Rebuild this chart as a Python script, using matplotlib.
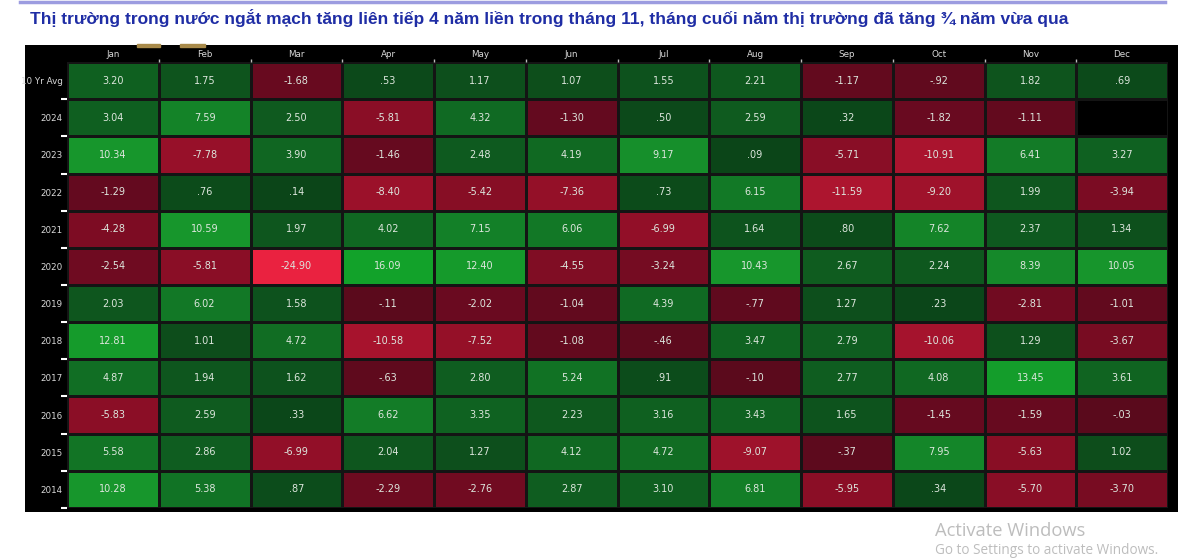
import numpy as np
import matplotlib
matplotlib.use("Agg")
import matplotlib.pyplot as plt
from matplotlib.colors import LinearSegmentedColormap, TwoSlopeNorm

months = ["Jan", "Feb", "Mar", "Apr", "May", "Jun", "Jul", "Aug", "Sep", "Oct", "Nov", "Dec"]
row_labels = ["10 Yr Avg", "2024", "2023", "2022", "2021", "2020", "2019",
              "2018", "2017", "2016", "2015", "2014"]

avg10 = [3.20, 1.75, -1.68, 0.53, 1.17, 1.07, 1.55, 2.21, -1.17, -0.92, 1.82, 0.69]
y2024 = [3.04, 7.59, 2.50, -5.81, 4.32, -1.30, 0.50, 2.59, 0.32, -1.82, -1.11, np.nan]
y2023 = [10.34, -7.78, 3.90, -1.46, 2.48, 4.19, 9.17, 0.09, -5.71, -10.91, 6.41, 3.27]
y2022 = [-1.29, 0.76, 0.14, -8.40, -5.42, -7.36, 0.73, 6.15, -11.59, -9.20, 1.99, -3.94]
y2021 = [-4.28, 10.59, 1.97, 4.02, 7.15, 6.06, -6.99, 1.64, 0.80, 7.62, 2.37, 1.34]
y2020 = [-2.54, -5.81, -24.90, 16.09, 12.40, -4.55, -3.24, 10.43, 2.67, 2.24, 8.39, 10.05]
y2019 = [2.03, 6.02, 1.58, -0.11, -2.02, -1.04, 4.39, -0.77, 1.27, 0.23, -2.81, -1.01]
y2018 = [12.81, 1.01, 4.72, -10.58, -7.52, -1.08, -0.46, 3.47, 2.79, -10.06, 1.29, -3.67]
y2017 = [4.87, 1.94, 1.62, -0.63, 2.80, 5.24, 0.91, -0.10, 2.77, 4.08, 13.45, 3.61]
y2016 = [-5.83, 2.59, 0.33, 6.62, 3.35, 2.23, 3.16, 3.43, 1.65, -1.45, -1.59, -0.03]
y2015 = [5.58, 2.86, -6.99, 2.04, 1.27, 4.12, 4.72, -9.07, -0.37, 7.95, -5.63, 1.02]
y2014 = [10.28, 5.38, 0.87, -2.29, -2.76, 2.87, 3.10, 6.81, -5.95, 0.34, -5.70, -3.70]

title = ("Thị trường trong nước ngắt mạch tăng liên tiếp 4 năm liền trong tháng 11, "
         "tháng cuối năm thị trường đã tăng ¾ năm vừa qua")

data = np.array([avg10, y2024, y2023, y2022, y2021, y2020, y2019,
                 y2018, y2017, y2016, y2015, y2014], dtype=float)

W, H = 1200, 559
fig = plt.figure(figsize=(W / 100, H / 100), dpi=100)
fig.patch.set_facecolor("white")

def fx(px):
    return px / W

def fy(py):
    return 1 - py / H

# top thin line
fig.add_artist(plt.Line2D([fx(20), fx(1165)], [fy(1.5), fy(1.5)], color="#9c9ce0", lw=2.5))

# title
fig.text(fx(30), fy(18), title, fontsize=12.55, fontweight="bold", color="#1f2da5",
         family="Liberation Sans", va="center", ha="left")

# black panel
bg = fig.add_axes([fx(25), fy(512), fx(1178) - fx(25), fy(45) - fy(512)])
bg.set_facecolor("black")
bg.set_xticks([]); bg.set_yticks([])
for s in bg.spines.values():
    s.set_visible(False)
# faint toolbar remnants
bg.add_patch(plt.Rectangle((fx(142) - fx(25), 0.996), 0.02, 0.006, transform=bg.transAxes,
                           color="#a88a4a", clip_on=False))
bg.add_patch(plt.Rectangle((fx(186) - fx(25), 0.996), 0.022, 0.006, transform=bg.transAxes,
                           color="#a88a4a", clip_on=False))

# colormap
vmin, vmax = -25.0, 16.0
def pos(v):
    return (v - vmin) / (0 - vmin) * 0.5 if v < 0 else 0.5 + 0.5 * v / vmax

nodes = [(-25, "#ea2240"), (-11, "#aa142e"), (-6, "#8c0e26"), (-1.5, "#660a1f"),
         (-0.0001, "#5a0a1c")]
pos_nodes = [(0.0001, "#0b4418"), (2, "#0e561e"), (6, "#127826"), (10, "#17952c"),
             (16, "#12a22a")]
clist = [(0.0, nodes[0][1])] + [(pos(v), c) for v, c in nodes[1:]] + \
        [(0.5, nodes[-1][1]), (0.5, pos_nodes[0][1])] + \
        [(pos(v), c) for v, c in pos_nodes[1:-1]] + [(1.0, pos_nodes[-1][1])]
cmap = LinearSegmentedColormap.from_list("bbg", clist, N=1024)
cmap.set_bad("black")
norm = TwoSlopeNorm(vmin=vmin, vcenter=0, vmax=vmax)

ax = fig.add_axes([fx(67), fy(508), fx(1168) - fx(67), fy(62) - fy(508)])
nrows, ncols = data.shape
ax.pcolormesh(np.arange(ncols + 1), np.arange(nrows + 1), np.ma.masked_invalid(data),
              cmap=cmap, norm=norm, edgecolor="#141414", linewidth=1.0)
ax.set_xlim(0, ncols)
ax.set_ylim(nrows, 0)
ax.set_facecolor("black")
for s in ax.spines.values():
    s.set_visible(False)

def fmt(v):
    s = f"{v:.2f}"
    if s.startswith("0."):
        s = s[1:]
    elif s.startswith("-0."):
        s = "-" + s[2:]
    return s

for i in range(nrows):
    for j in range(ncols):
        v = data[i, j]
        if np.isnan(v):
            continue
        ax.text(j + 0.5, i + 0.5, fmt(v), ha="center", va="center",
                fontsize=7, color="#dde6dd", family="DejaVu Sans")

ax.xaxis.tick_top()
ax.set_xticks(np.arange(ncols) + 0.5)
ax.set_xticklabels(months, fontsize=6.3, color="#d8d8d8")
ax.set_yticks(np.arange(nrows) + 0.5)
ax.set_yticklabels(row_labels, fontsize=6.3, color="#d8d8d8")
ax.tick_params(axis="both", which="major", length=0, pad=3)
ax.tick_params(axis="x", which="major", pad=2)
ax.set_yticks(np.arange(1, nrows + 1), minor=True)
ax.set_xticks(np.arange(1, ncols), minor=True)
ax.tick_params(axis="y", which="minor", length=4, width=1.5, color="white", direction="out")
ax.tick_params(axis="x", which="minor", length=2, width=1, color="#bbbbbb", direction="out")

# watermark
fig.text(fx(935), fy(531), "Activate Windows", fontsize=13.2, color="#bdbdbd",
         family="Open Sans", va="center", ha="left")
fig.text(fx(935), fy(551), "Go to Settings to activate Windows.", fontsize=9.8,
         color="#bdbdbd", family="Open Sans", va="center", ha="left")

fig.savefig("out.png", dpi=100, facecolor="white")
